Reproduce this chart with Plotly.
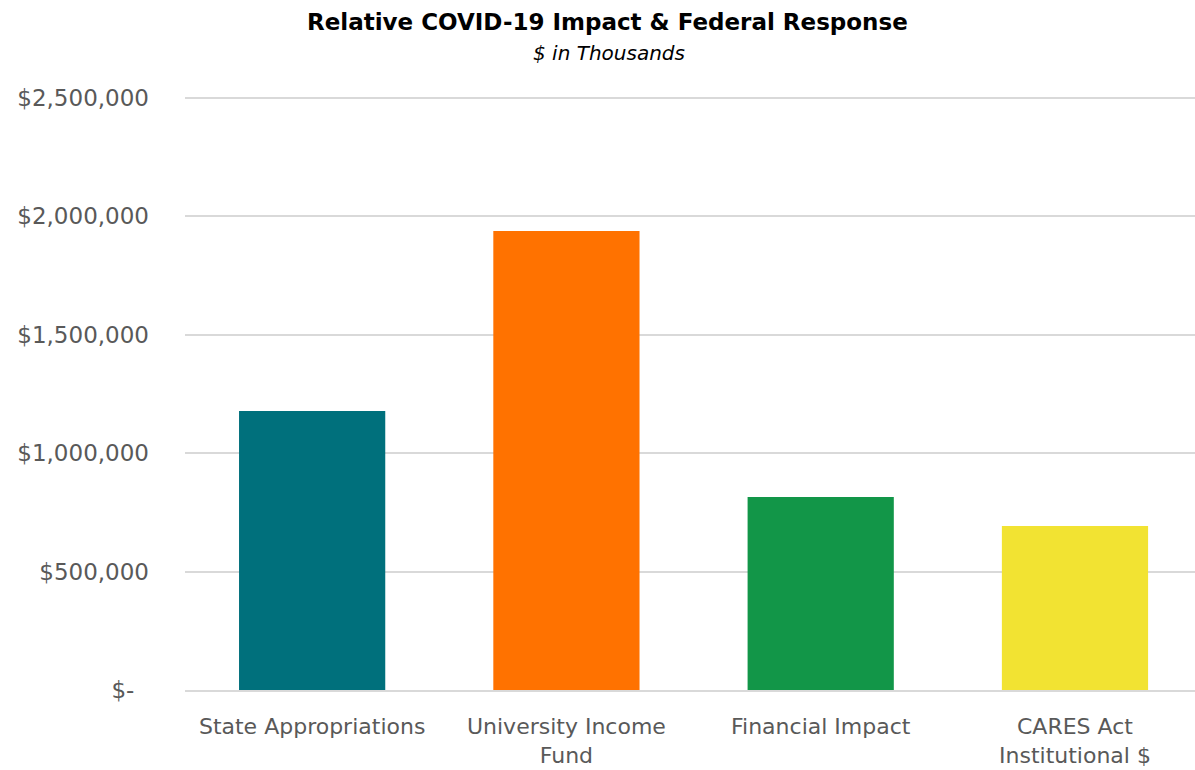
import plotly.graph_objects as go

# Chart data ($ in thousands)
categories = ["State Appropriations", "University Income<br>Fund", "Financial Impact", "CARES Act<br>Institutional $"]
values = [1178000, 1938000, 815000, 693000]
bar_colors = ["#00707C", "#FF7200", "#129648", "#F2E332"]

tick_values = [0, 500000, 1000000, 1500000, 2000000, 2500000]
tick_labels = ["$-  ", "$500,000", "$1,000,000", "$1,500,000", "$2,000,000", "$2,500,000"]

FONT = "'DejaVu Sans', sans-serif"
GRAY = "#595959"

PLOT_TOP, PLOT_BOTTOM = 94, 690
AXIS_TOP = 98  # pixel row of the 2,500,000 gridline
plot_h = PLOT_BOTTOM - PLOT_TOP
Y_MAX = 2500000 * plot_h / (PLOT_BOTTOM - AXIS_TOP)


def paper_y(px):
    """Convert a pixel row on the page into paper coordinates."""
    return (PLOT_BOTTOM - px) / plot_h


def paper_x(px):
    """Convert a pixel column on the page into paper coordinates."""
    return (px - 185) / (1195 - 185)


fig = go.Figure(
    go.Bar(
        x=categories,
        y=values,
        marker=dict(color=bar_colors, line=dict(width=0)),
        hoverinfo="x+y",
    )
)

fig.update_layout(
    width=1195,
    height=770,
    margin=dict(l=185, r=0, t=PLOT_TOP, b=770 - PLOT_BOTTOM),
    paper_bgcolor="white",
    plot_bgcolor="white",
    bargap=0.425,
    showlegend=False,
    font=dict(family=FONT, color=GRAY),
    annotations=[
        dict(
            text="<b>Relative COVID-19 Impact &amp; Federal Response</b>",
            x=paper_x(607), y=paper_y(22), xref="paper", yref="paper",
            xanchor="center", yanchor="middle", showarrow=False,
            font=dict(family=FONT, size=23, color="#000000"),
        ),
        dict(
            text="<i>$ in Thousands</i>",
            x=paper_x(609), y=paper_y(53), xref="paper", yref="paper",
            xanchor="center", yanchor="middle", showarrow=False,
            font=dict(family=FONT, size=20, color="#000000"),
        ),
    ],
)

fig.update_xaxes(
    range=[-0.5, 3.472],
    showgrid=False,
    showline=True,
    linecolor="#D9D9D9",
    linewidth=2,
    ticks="",
    tickfont=dict(family=FONT, size=22, color=GRAY),
    ticklabelstandoff=16,
)
fig.update_yaxes(
    range=[0, Y_MAX],
    tickvals=tick_values,
    ticktext=tick_labels,
    showgrid=True,
    gridcolor="#D9D9D9",
    gridwidth=2,
    zeroline=False,
    showline=False,
    ticks="",
    ticklabelstandoff=35,
    tickfont=dict(family=FONT, size=23, color=GRAY),
)

fig.write_html("out.html")
